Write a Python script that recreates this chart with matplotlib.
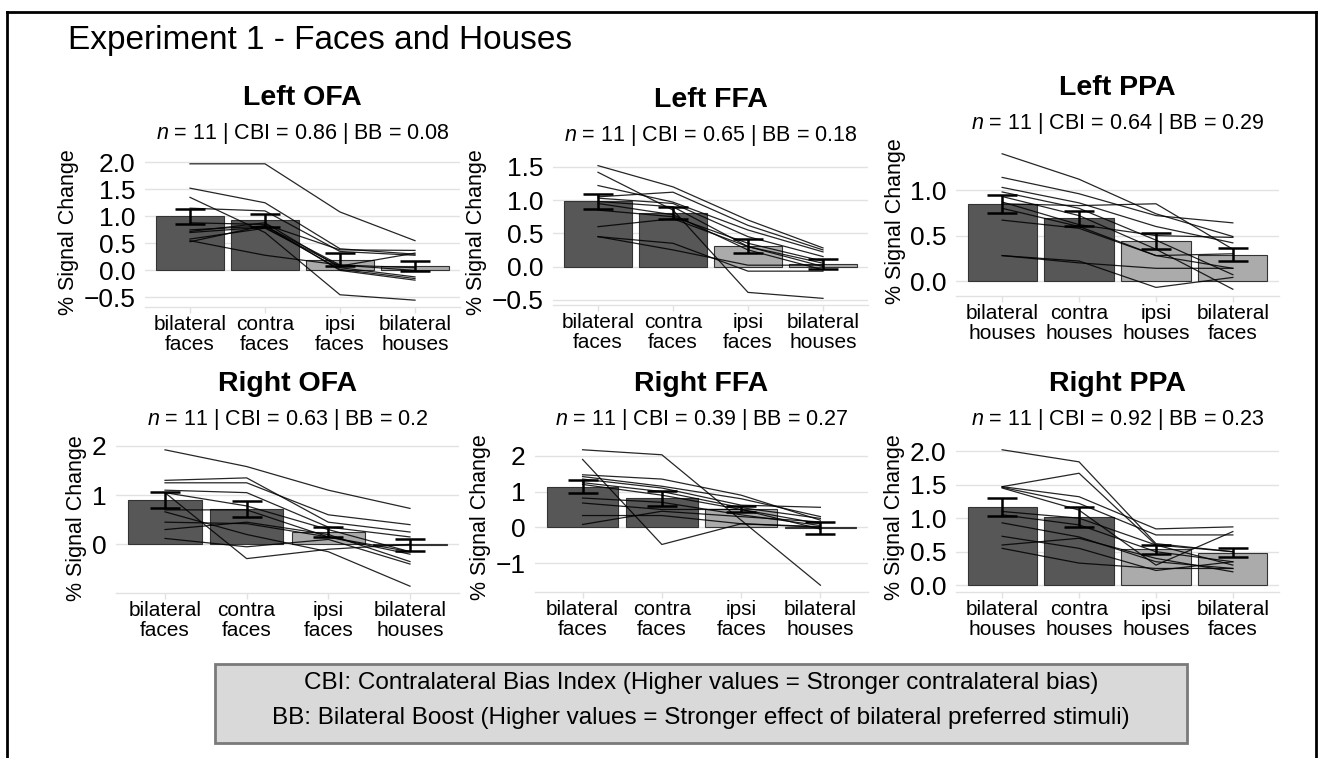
import matplotlib
matplotlib.use("Agg")
import matplotlib.pyplot as plt
from matplotlib.lines import Line2D
from matplotlib.patches import Rectangle
import numpy as np

plt.rcParams["font.family"] = ["Liberation Sans", "DejaVu Sans"]
plt.rcParams["mathtext.fontset"] = "custom"
plt.rcParams["mathtext.rm"] = "Liberation Sans"
plt.rcParams["mathtext.it"] = "Liberation Sans:italic"

W, H = 1323, 758

face_conditions = ["bilateral\nfaces", "contra\nfaces", "ipsi\nfaces", "bilateral\nhouses"]
house_conditions = ["bilateral\nhouses", "contra\nhouses", "ipsi\nhouses", "bilateral\nfaces"]

# individual subjects (11 per region), condition order as in the tick labels
left_ofa_subjects = [
    [1.97, 1.97, 1.08, 0.55], [1.52, 1.25, 0.40, 0.30], [1.35, 0.70, -0.45, -0.55],
    [1.15, 1.10, 0.35, 0.28], [0.88, 0.85, 0.38, 0.37], [0.75, 0.82, 0.10, 0.05],
    [0.72, 0.88, 0.05, -0.12], [0.70, 0.80, 0.02, -0.15], [0.58, 0.78, 0.08, 0.32],
    [0.53, 0.83, 0.00, -0.18], [0.55, 0.28, 0.10, 0.00],
]
left_ofa_means = [1.00, 0.93, 0.20, 0.08]
left_ofa_sem = [0.14, 0.12, 0.12, 0.09]

left_ffa_subjects = [
    [1.52, 1.20, 0.70, 0.28], [1.42, 0.85, -0.39, -0.48], [1.22, 0.97, 0.55, 0.22],
    [1.05, 1.12, 0.62, 0.25], [1.03, 0.95, 0.45, 0.15], [0.98, 0.90, 0.30, 0.05],
    [0.95, 0.78, 0.25, -0.05], [0.85, 0.75, 0.35, 0.08], [0.60, 0.72, 0.30, 0.00],
    [0.45, 0.25, 0.02, 0.02], [0.45, 0.35, -0.07, -0.07],
]
left_ffa_means = [0.98, 0.80, 0.31, 0.04]
left_ffa_sem = [0.11, 0.09, 0.10, 0.07]

left_ppa_subjects = [
    [1.40, 1.12, 0.74, 0.49], [1.14, 0.96, 0.72, 0.64], [1.03, 0.86, 0.60, 0.42],
    [0.85, 0.83, 0.85, 0.35], [0.98, 0.80, 0.45, 0.07], [0.93, 0.72, 0.35, -0.09],
    [0.87, 0.62, 0.50, 0.48], [0.80, 0.60, 0.28, 0.14], [0.67, 0.58, 0.28, 0.30],
    [0.28, 0.22, -0.07, 0.04], [0.28, 0.20, 0.14, 0.14],
]
left_ppa_means = [0.85, 0.69, 0.44, 0.29]
left_ppa_sem = [0.10, 0.08, 0.085, 0.068]

right_ofa_subjects = [
    [1.92, 1.58, 1.10, 0.73], [1.30, 1.35, 0.45, 0.25], [1.25, 1.25, 0.60, 0.40],
    [1.10, 1.05, 0.35, 0.15], [1.05, 0.78, 0.30, -0.15], [0.70, 0.70, 0.15, -0.15],
    [0.45, 0.42, 0.15, -0.20], [0.30, 0.45, 0.20, -0.35], [0.12, -0.05, 0.10, -0.40],
    [0.66, 0.20, -0.15, -0.85], [1.05, -0.29, -0.10, 0.00],
]
right_ofa_means = [0.90, 0.72, 0.25, -0.01]
right_ofa_sem = [0.16, 0.17, 0.10, 0.12]

right_ffa_subjects = [
    [2.17, 2.03, 0.20, -1.62], [1.90, -0.48, 0.10, 0.02], [1.47, 1.35, 0.90, 0.20],
    [1.42, 1.15, 0.80, 0.30], [1.35, 1.10, 0.62, 0.56], [1.25, 1.00, 0.55, 0.25],
    [1.20, 0.90, 0.50, 0.10], [0.82, 0.70, 0.35, 0.05], [0.68, 0.50, 0.50, -0.05],
    [0.33, 0.33, 0.10, 0.00], [0.08, 0.45, 0.30, 0.15],
]
right_ffa_means = [1.14, 0.81, 0.50, -0.03]
right_ffa_sem = [0.19, 0.20, 0.085, 0.17]

right_ppa_subjects = [
    [2.02, 1.84, 0.62, 0.50], [1.47, 1.67, 0.60, 0.30], [1.47, 1.32, 0.84, 0.87],
    [1.46, 1.22, 0.75, 0.75], [1.45, 1.12, 0.30, 0.80], [1.10, 1.00, 0.60, 0.50],
    [1.05, 0.90, 0.50, 0.35], [0.93, 0.72, 0.35, 0.25], [0.73, 0.55, 0.22, 0.35],
    [0.60, 0.70, 0.40, 0.20], [0.55, 0.33, 0.25, 0.25],
]
right_ppa_means = [1.165, 1.015, 0.535, 0.485]
right_ppa_sem = [0.14, 0.145, 0.065, 0.07]

region_names = ["Left OFA", "Left FFA", "Left PPA", "Right OFA", "Right FFA", "Right PPA"]
cbi_values = ["0.86", "0.65", "0.64", "0.63", "0.39", "0.92"]
bb_values = ["0.08", "0.18", "0.29", "0.2", "0.27", "0.23"]
n_subjects = 11

y_ticks = [
    [-0.5, 0.0, 0.5, 1.0, 1.5, 2.0],
    [-0.5, 0.0, 0.5, 1.0, 1.5],
    [0.0, 0.5, 1.0],
    [0, 1, 2],
    [-1, 0, 1, 2],
    [0.0, 0.5, 1.0, 1.5, 2.0],
]

panels = [
    (left_ofa_subjects, left_ofa_means, left_ofa_sem, face_conditions),
    (left_ffa_subjects, left_ffa_means, left_ffa_sem, face_conditions),
    (left_ppa_subjects, left_ppa_means, left_ppa_sem, house_conditions),
    (right_ofa_subjects, right_ofa_means, right_ofa_sem, face_conditions),
    (right_ffa_subjects, right_ffa_means, right_ffa_sem, face_conditions),
    (right_ppa_subjects, right_ppa_means, right_ppa_sem, house_conditions),
]

# panel boxes in pixels: left, right, top, bottom
boxes = [
    (145, 460, 157, 307), (553, 868, 159, 305), (956, 1279, 147, 296),
    (116, 459, 443, 593), (535, 868, 443, 592), (956, 1279, 443, 592),
]

DARK, LIGHT = "#575757", "#ababab"
GRID = "#e2e2e2"

fig = plt.figure(figsize=(W / 100, H / 100), dpi=100)


def px_rect(xl, xr, yt, yb):
    return [xl / W, 1 - yb / H, (xr - xl) / W, (yb - yt) / H]


for i, (subjects, means, sem, labels) in enumerate(panels):
    xl, xr, yt, yb = boxes[i]
    ax = fig.add_axes(px_rect(xl, xr, yt, yb))
    x = np.arange(1, 5)
    subjects = np.array(subjects)
    means = np.array(means)
    sem = np.array(sem)

    ax.bar(x, means, width=0.9, color=[DARK, DARK, LIGHT, LIGHT],
           edgecolor="#333333", linewidth=0.8, zorder=2)
    for row in subjects:
        ax.plot(x, row, color="black", lw=0.9, alpha=0.85, zorder=3)
    ax.errorbar(x, means, yerr=sem, fmt="none", ecolor="black",
                elinewidth=1.8, capsize=11, capthick=1.8, zorder=4)

    # 5% padding around everything drawn, bars anchored at zero
    lo = min(0, subjects.min(), (means - sem).min())
    hi = max(0, subjects.max(), (means + sem).max())
    pad = 0.05 * (hi - lo)
    ax.set_ylim(lo - pad, hi + pad)
    ax.set_xlim(0.4, 4.6)

    ax.set_yticks(y_ticks[i])
    ax.set_xticks(x, labels)
    ax.grid(axis="y", color=GRID, lw=1.0)
    ax.set_axisbelow(True)
    for side in ["left", "right", "top"]:
        ax.spines[side].set_visible(False)
    ax.spines["bottom"].set_color(GRID)
    ax.spines["bottom"].set_linewidth(1.0)
    ax.tick_params(axis="y", length=0, pad=7, labelsize=19, labelcolor="black")
    ax.tick_params(axis="x", length=4, width=1.0, color=GRID, pad=2,
                   labelsize=15, labelcolor="black")
    for lab in ax.get_xticklabels():
        lab.set_linespacing(1.05)
    ax.set_ylabel("% Signal Change", fontsize=15.5, labelpad=3)

    cx = (xl + xr) / 2 / W
    fig.text(cx, 1 - (yt - 59) / H, region_names[i], ha="center", va="center",
             fontsize=20.5, fontweight="bold")
    fig.text(cx, 1 - (yt - 24) / H,
             f"$n$ = {n_subjects} | CBI = {cbi_values[i]} | BB = {bb_values[i]}",
             ha="center", va="center", fontsize=15.5)

fig.text(68 / W, 1 - 41 / H, "Experiment 1 - Faces and Houses", ha="left",
         va="center", fontsize=24)

# legend box for the two indices
box_l, box_r, box_t, box_b = 215, 1187, 664, 743
fig.add_artist(Rectangle((box_l / W, 1 - box_b / H), (box_r - box_l) / W,
                         (box_b - box_t) / H, transform=fig.transFigure,
                         facecolor="#d9d9d9", edgecolor="#7a7a7a", lw=2))
box_cx = (box_l + box_r) / 2 / W
fig.text(box_cx, 1 - 683 / H,
         "CBI: Contralateral Bias Index (Higher values = Stronger contralateral bias)",
         ha="center", va="center", fontsize=17.5)
fig.text(box_cx, 1 - 718 / H,
         "BB: Bilateral Boost (Higher values = Stronger effect of bilateral preferred stimuli)",
         ha="center", va="center", fontsize=17.5)

# outer frame
for xs, ys in [((7, 7), (12, H)), ((7, 1316), (12, 12)), ((1316, 1316), (12, H))]:
    fig.add_artist(Line2D([v / W for v in xs], [1 - v / H for v in ys],
                          transform=fig.transFigure, color="black", lw=2))

fig.savefig("out.png", dpi=100)
